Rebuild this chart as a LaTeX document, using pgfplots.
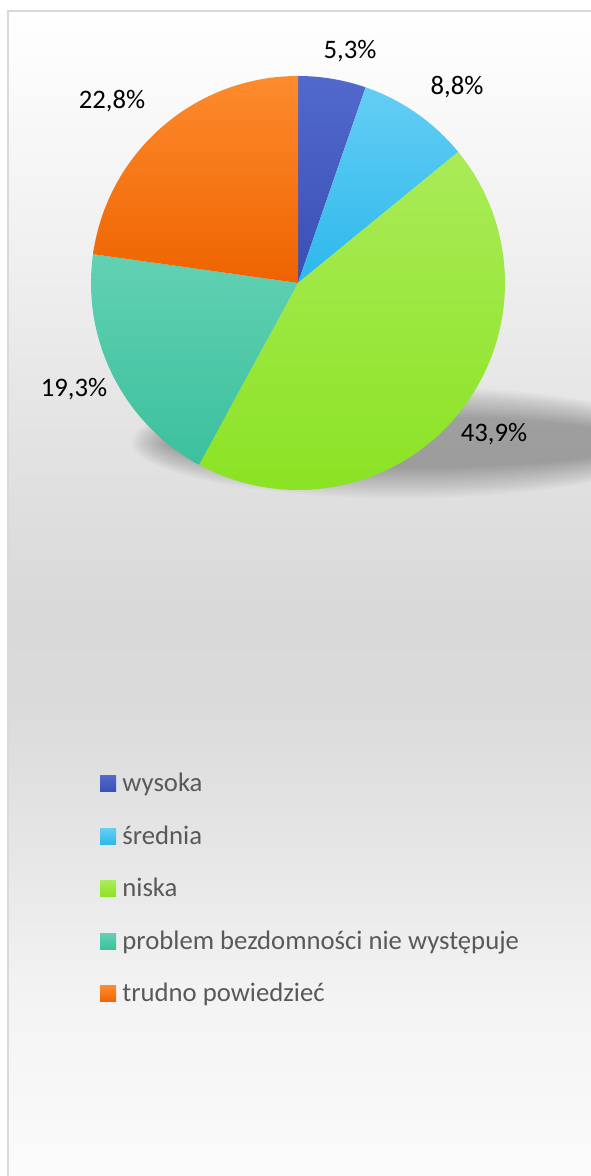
\documentclass[border=0pt]{standalone}
\usepackage{fontspec}
\setmainfont{Carlito}
\usepackage{pgfplots}
\pgfplotsset{compat=1.18}
\usepackage{pgfplotstable}

\definecolor{bgA}{HTML}{FFFFFF}
\definecolor{bgB}{HTML}{F0F0F0}
\definecolor{bgC}{HTML}{E2E2E2}
\definecolor{bgD}{HTML}{D9D9D9}
\definecolor{bgE}{HTML}{DADADA}
\definecolor{bgF}{HTML}{E6E6E6}
\definecolor{bgG}{HTML}{F3F3F3}
\definecolor{bgH}{HTML}{FCFCFC}
\definecolor{frameC}{HTML}{D9D9D9}
\definecolor{legC}{HTML}{595959}

\definecolor{pieT0}{HTML}{5269CC}\definecolor{pieB0}{HTML}{3A4FB4}
\definecolor{pieT1}{HTML}{64CEF4}\definecolor{pieB1}{HTML}{2DB8EC}
\definecolor{pieT2}{HTML}{AAEB58}\definecolor{pieB2}{HTML}{8BE324}
\definecolor{pieT3}{HTML}{62D1B3}\definecolor{pieB3}{HTML}{3BC09D}
\definecolor{pieT4}{HTML}{FD8B2D}\definecolor{pieB4}{HTML}{EF6300}

\pgfdeclareverticalshading{bgshade}{100bp}{color(0bp)=(bgH); color(25bp)=(bgH); color(33.5bp)=(bgG); color(39.5bp)=(bgF); color(46bp)=(bgE); color(50bp)=(bgD); color(56.5bp)=(bgC); color(65bp)=(bgB); color(75bp)=(bgA); color(100bp)=(bgA)}

\newcommand\chartfont{\fontsize{13.35}{16}\selectfont}

% value = share in %, (lx,ly) = baseline centre of the percent label
\pgfplotstableread[col sep=comma]{
name,value,lx,ly
wysoka,5.3,350,1117
średnia,8.8,457,1081
niska,43.9,494,734
problem bezdomności nie występuje,19.3,74,779
trudno powiedzieć,22.8,112,1067
}\piedata

\begin{document}
\begin{tikzpicture}
\begin{axis}[at={(0pt,0pt)}, anchor=south west, scale only axis,
  width=295pt, height=588pt,
  xmin=0, xmax=590, ymin=0, ymax=1176,
  hide axis, clip=false]

% chart area background and frame
\shade[shading=bgshade] (axis cs:8,-20) rectangle (axis cs:620,1165);
\draw[frameC, line width=1pt] (axis cs:8,-20) rectangle (axis cs:620,1165);

% soft shadow under the pie
\pgfplotsinvokeforeach{0,...,15}{
  \pgfmathsetmacro{\rx}{135-1.2*#1}
  \pgfmathsetmacro{\ry}{28-1.0*#1}
  \edef\temp{\noexpand\fill[black, opacity=0.021] (axis cs:402,734) ellipse [x radius=\rx pt, y radius=\ry pt];}
  \temp
}

% total of the shares
\xdef\total{0}
\pgfplotsinvokeforeach{0,...,4}{
  \pgfplotstablegetelem{#1}{value}\of\piedata
  \pgfmathsetmacro{\newtot}{\total+\pgfplotsretval}
  \xdef\total{\newtot}
}

% slices, clockwise from 12 o'clock
\xdef\cum{0}
\pgfplotsinvokeforeach{0,...,4}{
  \pgfplotstablegetelem{#1}{value}\of\piedata
  \let\val\pgfplotsretval
  \pgfmathsetmacro{\aS}{90-360*(\cum/\total)}
  \pgfmathsetmacro{\aE}{90-360*((\cum+\val)/\total)}
  \pgfmathsetmacro{\newcum}{\cum+\val}
  \xdef\cum{\newcum}
  \edef\temp{\noexpand\addplot[draw=none, top color=pieT#1, bottom color=pieB#1, domain=\aE:\aS, samples=90] ({298+207*cos(x)},{893+207*sin(x)}) -- (axis cs:298,893) -- cycle;}
  \temp
}

% percent labels and legend
\pgfplotsinvokeforeach{0,...,4}{
  \pgfplotstablegetelem{#1}{value}\of\piedata \let\val\pgfplotsretval
  \pgfplotstablegetelem{#1}{lx}\of\piedata \let\lx\pgfplotsretval
  \pgfplotstablegetelem{#1}{ly}\of\piedata \let\ly\pgfplotsretval
  \pgfplotstablegetelem{#1}{name}\of\piedata \let\nm\pgfplotsretval
  \pgfmathsetmacro{\yb}{384-52.5*#1}
  \pgfmathsetmacro{\yt}{\yb+16}
  \edef\temp{%
    \noexpand\node[anchor=base, inner sep=0pt, text=black, font=\noexpand\chartfont] at (axis cs:\lx,\ly) {\noexpand\pgfmathprintnumber[fixed, fixed zerofill, precision=1, use comma, assume math mode=true]{\val}\noexpand\%};
    \noexpand\shade[top color=pieT#1, bottom color=pieB#1] (axis cs:100,\yb) rectangle (axis cs:116,\yt);
    \noexpand\node[anchor=base west, inner sep=0pt, text=legC, font=\noexpand\chartfont] at (axis cs:122,\yb) {\nm};
  }
  \temp
}
\end{axis}
\pgfresetboundingbox
\path (0pt,0pt) rectangle (295pt,588pt);
\end{tikzpicture}
\end{document}
